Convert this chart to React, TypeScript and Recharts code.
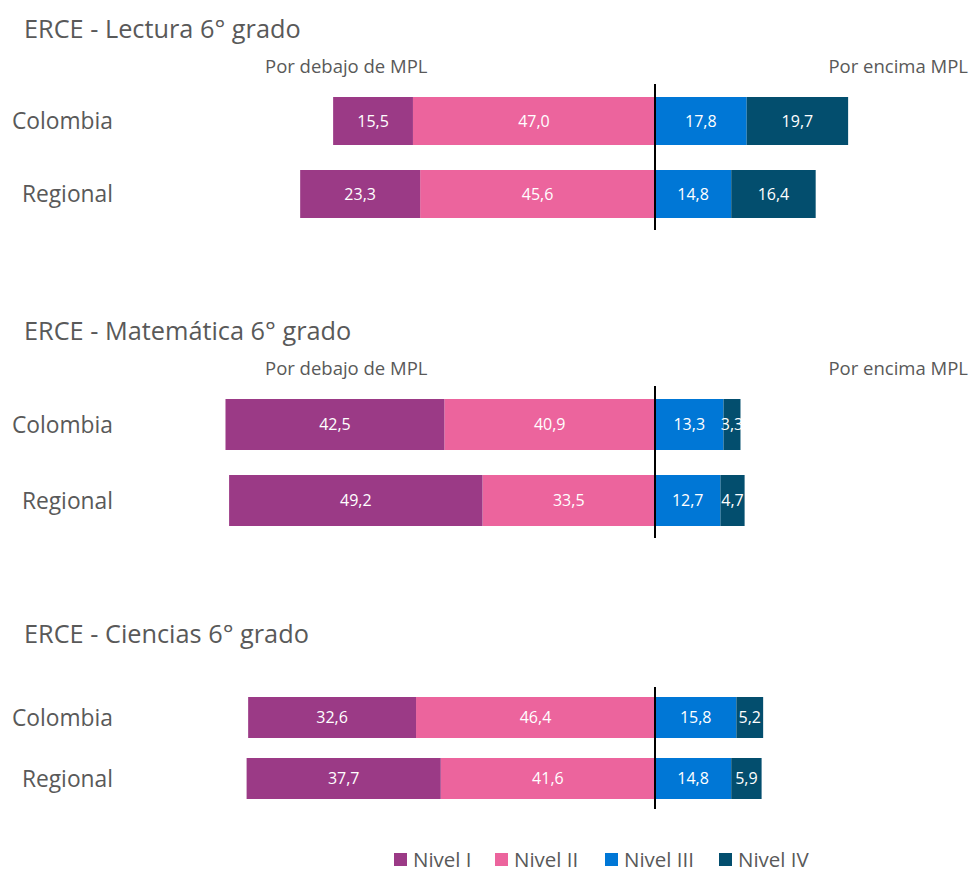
import React from 'react';
import { BarChart, Bar, XAxis, YAxis, ReferenceLine, LabelList } from 'recharts';

const categories = ['Colombia', 'Regional'];
const levelNames = ['Nivel I', 'Nivel II', 'Nivel III', 'Nivel IV'];
const levelColors = ['#9B3A86', '#EC649D', '#0077D6', '#034E6E'];

const lecturaI = [15.5, 23.3];
const lecturaII = [47.0, 45.6];
const lecturaIII = [17.8, 14.8];
const lecturaIV = [19.7, 16.4];

const matI = [42.5, 49.2];
const matII = [40.9, 33.5];
const matIII = [13.3, 12.7];
const matIV = [3.3, 4.7];

const cienI = [32.6, 37.7];
const cienII = [46.4, 41.6];
const cienIII = [15.8, 14.8];
const cienIV = [5.2, 5.9];

const titles = ['ERCE - Lectura 6° grado', 'ERCE - Matemática 6° grado', 'ERCE - Ciencias 6° grado'];
const belowLabel = 'Por debajo de MPL';
const aboveLabel = 'Por encima MPL';

const FONT = '"Open Sans", sans-serif';
const GREY = '#595959';

function buildRows(a: number[], b: number[], c: number[], d: number[]) {
  return categories.map((name, i) => ({ name, n1: -a[i], n2: -b[i], n3: c[i], n4: d[i] }));
}

const fmt = (v: any) => Math.abs(Number(v)).toFixed(1).replace('.', ',');

const CatTick = (props: any) => {
  const { y, payload } = props;
  return (
    <text x={113} y={y} textAnchor="end" dominantBaseline="central" fill={GREY} fontSize={22.8} fontFamily={FONT}>
      {payload.value}
    </text>
  );
};

function Panel({ rows, top, height, barSize }: { rows: any[]; top: number; height: number; barSize: number }) {
  const keys = ['n2', 'n1', 'n3', 'n4'];
  const colorIdx: Record<string, number> = { n1: 0, n2: 1, n3: 2, n4: 3 };
  return (
    <div style={{ position: 'absolute', left: 0, top }}>
      <BarChart
        width={973}
        height={height}
        data={rows}
        layout="vertical"
        stackOffset="sign"
        margin={{ top: 0, right: 9, bottom: 0, left: 0 }}
      >
        <XAxis type="number" domain={[-100, 60]} hide allowDataOverflow />
        <YAxis type="category" dataKey="name" width={140} axisLine={false} tickLine={false} tick={<CatTick />} />
        {keys.map((k) => (
          <Bar key={k} dataKey={k} stackId="a" fill={levelColors[colorIdx[k]]} barSize={barSize} isAnimationActive={false}>
            <LabelList dataKey={k} position="center" formatter={fmt} fill="#FFFFFF" fontSize={16} fontFamily={FONT} />
          </Bar>
        ))}
        <ReferenceLine x={0} stroke="#000000" strokeWidth={2} />
      </BarChart>
    </div>
  );
}

function Txt({ text, x, cy, size, right }: { text: string; x: number; cy: number; size: number; right?: boolean }) {
  const lh = Math.round(size * 1.4);
  const style: React.CSSProperties = {
    position: 'absolute',
    top: cy - lh / 2,
    lineHeight: `${lh}px`,
    fontSize: size,
    fontFamily: FONT,
    color: GREY,
    whiteSpace: 'nowrap',
  };
  if (right) style.right = 973 - x;
  else style.left = x;
  return <div style={style}>{text}</div>;
}

export default function App() {
  const lectura = buildRows(lecturaI, lecturaII, lecturaIII, lecturaIV);
  const mat = buildRows(matI, matII, matIII, matIV);
  const cien = buildRows(cienI, cienII, cienIII, cienIV);
  const legendX = [394, 495, 605, 719];
  return (
    <div style={{ position: 'absolute', left: 0, top: 0, width: 973, height: 872, background: '#fff' }}>
      <Txt text={titles[0]} x={24} cy={28} size={25.3} />
      <Txt text={belowLabel} x={265} cy={66} size={18.5} />
      <Txt text={aboveLabel} x={968} cy={66} size={18.5} right />
      <Panel rows={lectura} top={83.5} height={146} barSize={48} />

      <Txt text={titles[1]} x={24} cy={330} size={25.3} />
      <Txt text={belowLabel} x={265} cy={368} size={18.5} />
      <Txt text={aboveLabel} x={968} cy={368} size={18.5} right />
      <Panel rows={mat} top={385.5} height={152} barSize={51} />

      <Txt text={titles[2]} x={24} cy={633} size={25.3} />
      <Panel rows={cien} top={687} height={122} barSize={41} />

      {levelNames.map((n, i) => (
        <div key={n} style={{ position: 'absolute', left: legendX[i], top: 847, height: 25, display: 'flex', alignItems: 'center', whiteSpace: 'nowrap' }}>
          <div style={{ width: 13, height: 13, background: levelColors[i], marginRight: 6, flexShrink: 0 }} />
          <span style={{ fontSize: 20.5, fontFamily: FONT, color: GREY, lineHeight: '25px' }}>{n}</span>
        </div>
      ))}
    </div>
  );
}
